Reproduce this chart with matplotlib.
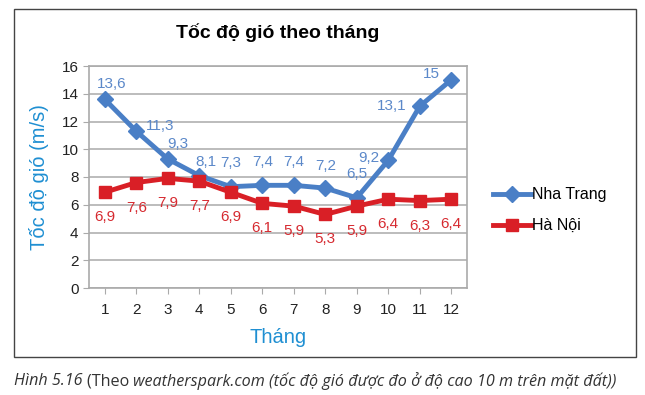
import matplotlib.pyplot as plt
from matplotlib.patches import Rectangle

plt.rcParams['font.family'] = ['Liberation Sans', 'DejaVu Sans']

# data
months = [1, 2, 3, 4, 5, 6, 7, 8, 9, 10, 11, 12]
nha_trang = [13.6, 11.3, 9.3, 8.1, 7.3, 7.4, 7.4, 7.2, 6.5, 9.2, 13.1, 15]
ha_noi = [6.9, 7.6, 7.9, 7.7, 6.9, 6.1, 5.9, 5.3, 5.9, 6.4, 6.3, 6.4]
nt_labels = ['13,6', '11,3', '9,3', '8,1', '7,3', '7,4', '7,4', '7,2', '6,5', '9,2', '13,1', '15']
hn_labels = ['6,9', '7,6', '7,9', '7,7', '6,9', '6,1', '5,9', '5,3', '5,9', '6,4', '6,3', '6,4']

blue = '#4a7fc6'
red = '#d91f26'
label_blue = '#1f8fd2'

fig = plt.figure(figsize=(6.45, 3.95), dpi=100)
fig.patches.append(Rectangle((14 / 645, 1 - 357 / 395), 622 / 645, 348 / 395,
                             transform=fig.transFigure, fill=False,
                             edgecolor='#444444', linewidth=1.0))

ax = fig.add_axes([89 / 645, 1 - 288 / 395, 378 / 645, 222 / 395])
ax.plot(months, nha_trang, color=blue, lw=3.5, marker='D', ms=8, label='Nha Trang', zorder=3)
ax.plot(months, ha_noi, color=red, lw=3.5, marker='s', ms=8, label='Hà Nội', zorder=3)

# label offsets in points (dx, dy)
nt_off = [(5, 11), (17, 4), (7, 11), (5, 10), (0, 17), (0, 17), (0, 17), (0, 16),
          (0, 17), (-14, 2), (-20, 0), (-14, 4)]
for x, y, s, o in zip(months, nha_trang, nt_labels, nt_off):
    ax.annotate(s, (x, y), xytext=o, textcoords='offset points', ha='center',
                va='center', color='#5b88c9', fontsize=11)
for x, y, s in zip(months, ha_noi, hn_labels):
    ax.annotate(s, (x, y), xytext=(0, -18), textcoords='offset points', ha='center',
                va='center', color='#d62a30', fontsize=11)

ax.set_xlim(0.5, 12.5)
ax.set_ylim(0, 16)
ax.set_xticks(months)
ax.set_yticks(range(0, 17, 2))
ax.grid(axis='y', color='#b0b0b0', lw=1.2)
ax.set_axisbelow(True)
for sp in ax.spines.values():
    sp.set_color('#aaaaaa')
    sp.set_linewidth(1.2)
ax.tick_params(colors='#aaaaaa', labelcolor='#222222', labelsize=11, length=4)
ax.tick_params(axis='x', pad=7)
ax.set_xlabel('Tháng', color=label_blue, fontsize=14.5, labelpad=8)
ax.set_ylabel('Tốc độ gió (m/s)', color=label_blue, fontsize=14.5, labelpad=9)
ax.set_title('Tốc độ gió theo tháng', fontsize=14, fontweight='bold', pad=20)

ax.legend(loc='center left', bbox_to_anchor=(1.03, 0.35), frameon=False,
          fontsize=11.5, handlelength=2.4, handletextpad=0.05, labelspacing=1.0)

# caption with mixed italic / upright
renderer = fig.canvas.get_renderer()
parts = [('Hình 5.16 ', 'italic'), ('(Theo ', 'normal'),
         ('weatherspark.com (tốc độ gió được đo ở độ cao 10 m trên mặt đất))', 'italic')]
xpix = 14
for s, style in parts:
    t = fig.text(xpix / 645, 1 - 381 / 395, s, fontsize=11.6, style=style,
                 family=['Open Sans', 'DejaVu Sans'], color='#333333', va='center')
    xpix += t.get_window_extent(renderer).width

fig.savefig('out.png', dpi=100)
